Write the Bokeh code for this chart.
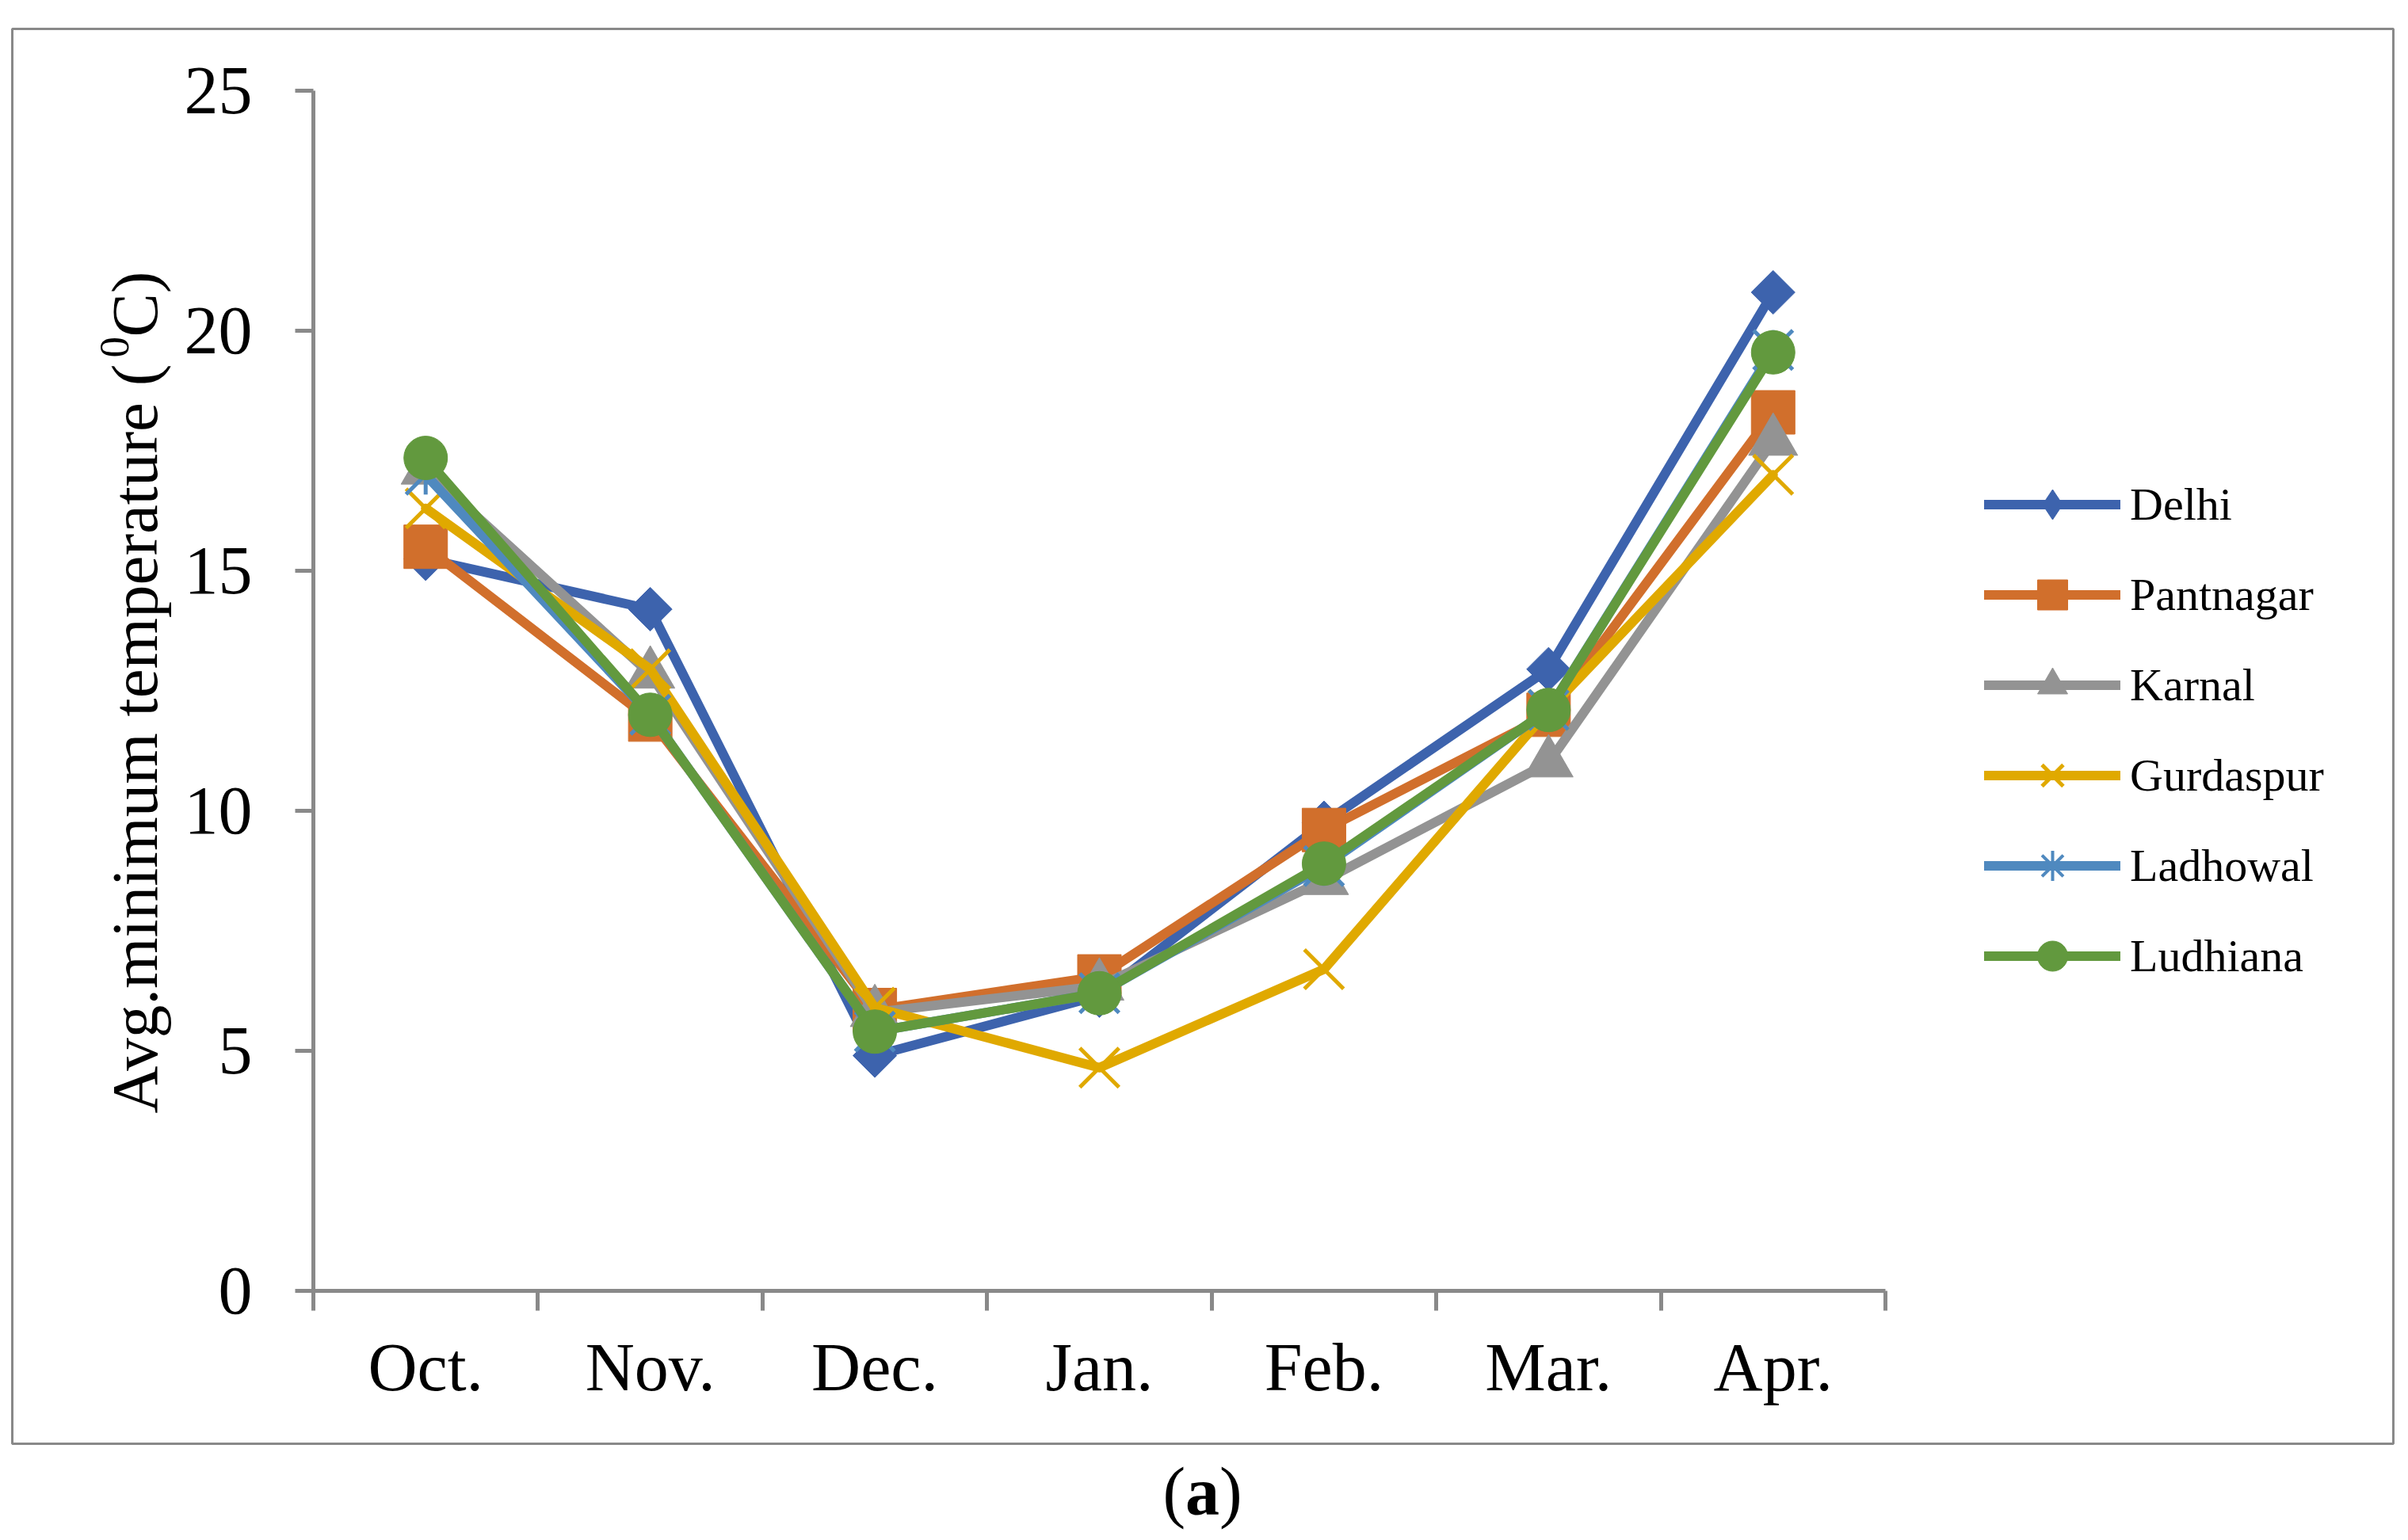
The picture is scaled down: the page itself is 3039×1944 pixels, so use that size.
import math
from bokeh.plotting import figure
from bokeh.models import (Range1d, LinearAxis, FixedTicker, Label, BoxAnnotation,
                          Legend, LegendItem, ColumnDataSource)
from bokeh.embed import file_html
from bokeh.resources import INLINE

# ---------------- data ----------------
months = ["Oct.", "Nov.", "Dec.", "Jan.", "Feb.", "Mar.", "Apr."]
y_ticks = [0, 5, 10, 15, 20, 25]

delhi = [15.25, 14.2, 4.9, 6.15, 9.75, 12.95, 20.8]
pantnagar = [15.5, 11.9, 5.85, 6.55, 9.6, 12.0, 18.3]
karnal = [17.1, 12.85, 5.8, 6.35, 8.55, 11.0, 17.7]
gurdaspur = [16.3, 12.95, 5.9, 4.65, 6.7, 12.1, 17.0]
ladhowal = [17.0, 12.0, 5.4, 6.2, 8.85, 12.1, 19.6]
ludhiana = [17.35, 12.0, 5.4, 6.2, 8.9, 12.1, 19.55]

series_names = ["Delhi", "Pantnagar", "Karnal", "Gurdaspur", "Ladhowal", "Ludhiana"]
series_values = [delhi, pantnagar, karnal, gurdaspur, ladhowal, ludhiana]
colors = ["#3D63AD", "#D16F2C", "#939393", "#E0A900", "#4F89BF", "#62993E"]

GRAY = "#898989"
FONT = "Liberation Serif"

# ---------------- geometry (pixels on the canvas) ----------------
W, H = 3031, 1936
AX_L, AX_R = 395, 2379        # x pixel of first / last category boundary
AX_T, AX_B = 114, 1629        # y pixel of y=25 / y=0
YMIN, YMAX = 0, 25
ncat = len(months)
ux = (AX_R - AX_L) / ncat
uy = (AX_B - AX_T) / (YMAX - YMIN)
x_range = Range1d(-AX_L / ux, ncat + (W - AX_R) / ux)
y_range = Range1d(YMIN - (H - AX_B) / uy, YMAX + AX_T / uy)

# category centres on the numeric slot axis
xpos = [i + 0.5 for i in range(ncat)]
src = ColumnDataSource(data=dict(x=xpos, **{n: v for n, v in zip(series_names, series_values)}))

p = figure(width=W, height=H, x_range=x_range, y_range=y_range,
           output_backend="svg", toolbar_location=None,
           x_axis_location=None, y_axis_location=None,
           min_border=0, min_border_left=0, min_border_right=0,
           min_border_top=0, min_border_bottom=0)
p.outline_line_color = None
p.xgrid.visible = False
p.ygrid.visible = False
p.background_fill_color = "white"
p.border_fill_color = "white"

# y axis
yax = LinearAxis(ticker=FixedTicker(ticks=y_ticks), fixed_location=0, bounds=(YMIN, YMAX))
yax.axis_line_color = GRAY
yax.axis_line_width = 5
yax.major_tick_line_color = GRAY
yax.major_tick_line_width = 5
yax.major_tick_out = 23
yax.major_tick_in = 0
yax.minor_tick_out = 0
yax.minor_tick_in = 0
yax.major_label_text_font = FONT
yax.major_label_text_font_size = "86px"
yax.major_label_text_color = "black"
yax.major_label_standoff = 54
p.add_layout(yax, "left")

# x axis: tick marks on the category boundaries
xt = LinearAxis(ticker=FixedTicker(ticks=list(range(ncat + 1))), fixed_location=YMIN,
                bounds=(0, ncat))
xt.major_label_overrides = {i: "" for i in range(ncat + 1)}
xt.major_label_text_font_size = "1px"
xt.axis_line_color = GRAY
xt.axis_line_width = 5
xt.major_tick_line_color = GRAY
xt.major_tick_line_width = 5
xt.major_tick_out = 25
xt.major_tick_in = 0
xt.minor_tick_out = 0
xt.minor_tick_in = 0
p.add_layout(xt, "below")

# x axis: category labels at the slot centres
xc = LinearAxis(ticker=FixedTicker(ticks=xpos), fixed_location=YMIN, bounds=(0, ncat))
xc.major_label_overrides = {x: m for x, m in zip(xpos, months)}
xc.axis_line_color = None
xc.major_tick_line_color = None
xc.major_tick_out = 0
xc.major_tick_in = 0
xc.minor_tick_out = 0
xc.minor_tick_in = 0
xc.major_label_text_font = FONT
xc.major_label_text_font_size = "86px"
xc.major_label_text_color = "black"
xc.major_label_standoff = 48
p.add_layout(xc, "below")

# ---------------- series ----------------
LW = 12
legend_items = []
proxy_src = ColumnDataSource(data=dict(x=[float("nan")], y=[float("nan")]))
for name, col in zip(series_names, colors):
    lr = p.line(x="x", y=name, source=src, line_color=col, line_width=LW,
                line_join="round", line_cap="round")
    rs = [lr]
    if name == "Delhi":
        p.scatter(x="x", y=name, source=src, marker="square", angle=math.pi / 4,
                  size=39, fill_color=col, line_color=col, line_width=1)
        # legend-only proxy for the diamond symbol (no visible point)
        proxy = p.scatter(x="x", y="y", source=proxy_src, marker="diamond",
                          fill_color=col, line_color=col)
        rs.append(proxy)
    elif name == "Pantnagar":
        m = p.scatter(x="x", y=name, source=src, marker="square", size=55,
                      fill_color=col, line_color=col, line_width=1)
        rs.append(m)
    elif name == "Karnal":
        m = p.scatter(x="x", y=name, source=src, marker="triangle", size=62,
                      fill_color=col, line_color=col, line_width=1)
        rs.append(m)
    elif name == "Gurdaspur":
        m = p.scatter(x="x", y=name, source=src, marker="x", size=70,
                      line_color=col, line_width=5)
        rs.append(m)
    elif name == "Ladhowal":
        p.scatter(x="x", y=name, source=src, marker="x", size=70,
                  line_color=col, line_width=5)
        p.scatter(x="x", y=name, source=src, marker="dash", angle=math.pi / 2,
                  size=50, line_color=col, line_width=5)
        # legend-only proxy for the star symbol (no visible point)
        proxy = p.scatter(x="x", y="y", source=proxy_src, marker="asterisk",
                          line_color=col, line_width=4)
        rs.append(proxy)
    else:
        m = p.scatter(x="x", y=name, source=src, marker="circle", size=55,
                      fill_color=col, line_color=col, line_width=1)
        rs.append(m)
    legend_items.append(LegendItem(label=name, renderers=rs))

legend = Legend(items=legend_items, location=(2504, 682),
                glyph_width=172, glyph_height=95, spacing=19, padding=0, margin=0,
                label_standoff=12, border_line_color=None, background_fill_alpha=0,
                label_text_font=FONT, label_text_font_size="58px", label_text_color="black")
p.add_layout(legend)

# ---------------- texts ----------------
def lab(text, x, y, size, angle=0.0, bold=False):
    return Label(x=x, y=y, x_units="screen", y_units="screen", text=text, angle=angle,
                 text_font=FONT, text_font_size=f"{size}px",
                 text_font_style="bold" if bold else "normal",
                 text_align="left", text_baseline="alphabetic", text_color="black")

# y-axis title with superscript
p.add_layout(lab("Avg.minimum temperature (", 169, 531, 83, math.pi / 2))
p.add_layout(lab("0", 144, 1485, 53, math.pi / 2))
p.add_layout(lab("C)", 169, 1511, 83, math.pi / 2))

# caption (a)
CAP_Y = H - 1882
p.add_layout(lab("(", 1467, CAP_Y, 86))
p.add_layout(lab("a", 1495.6, CAP_Y, 86, bold=True))
p.add_layout(lab(")", 1538.6, CAP_Y, 86))

# outer frame box
box = BoxAnnotation(left=15, right=3020, top=H - 36, bottom=H - 1822,
                    left_units="screen", right_units="screen",
                    top_units="screen", bottom_units="screen",
                    fill_color=None, fill_alpha=0, line_color=GRAY, line_width=3,
                    line_alpha=1.0)
p.add_layout(box)

open("out.html", "w").write(file_html(p, INLINE))
